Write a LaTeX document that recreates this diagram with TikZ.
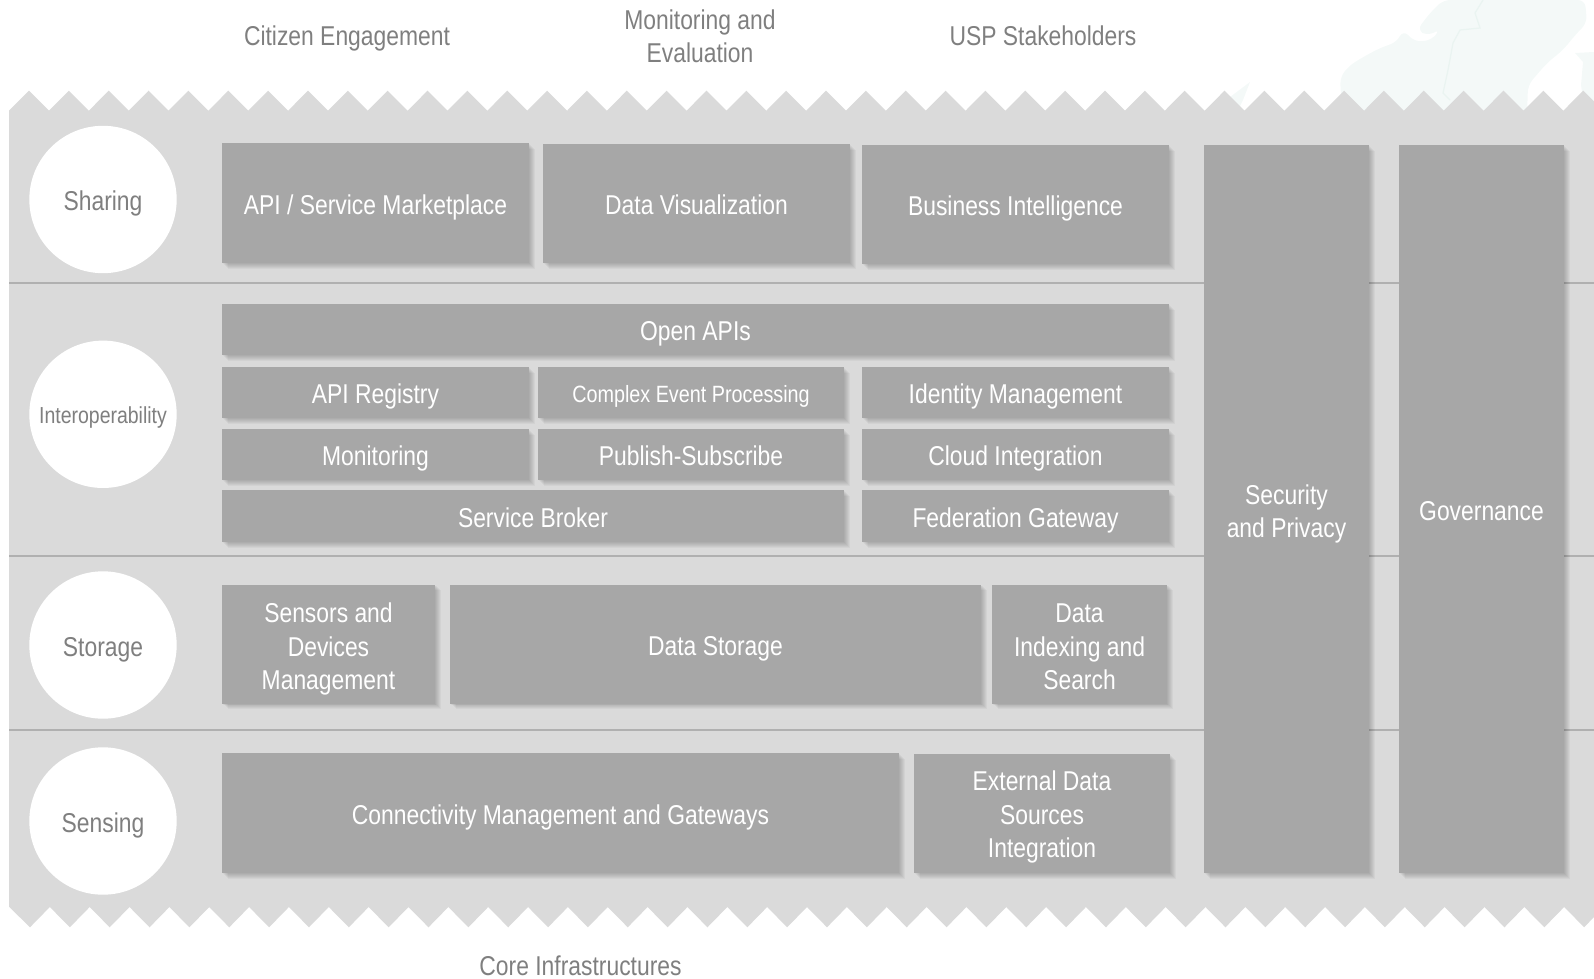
\documentclass[tikz,border=0pt]{standalone}
\usepackage{fontspec}
\setmainfont[FakeStretch=0.84]{Liberation Sans}
\usetikzlibrary{shadows}
\definecolor{bandgray}{HTML}{DADADA}
\definecolor{boxgray}{HTML}{A7A7A7}
\definecolor{sepgray}{HTML}{B0B0B0}
\definecolor{labelgray}{HTML}{7F7F7F}
\definecolor{mapgreen}{HTML}{F4F9F8}
\definecolor{rivergreen}{HTML}{EAF4F1}
\tikzset{
  boxsize/.style 2 args={minimum width=#1*0.02cm,minimum height=#2*0.02cm},
  softlayer/.style={drop shadow={shadow xshift=#1,shadow yshift=-#1,fill=black,opacity=0.035}},
  layerbox/.style={fill=boxgray,text=white,align=center,inner sep=0pt,outer sep=0pt,
    font=\fontsize{15.5}{19}\selectfont,
    softlayer=3.4pt,softlayer=2.8pt,softlayer=2.2pt,softlayer=1.7pt,softlayer=1.1pt,softlayer=0.6pt},
  oneline/.style={text height=12.9pt,text depth=0pt},
  twolines/.style={text height=32.4pt,text depth=0pt},
  threelines/.style={text height=52pt,text depth=0pt},
  layercircle/.style={circle,fill=white,text=labelgray,inner sep=0pt,outer sep=0pt,
    minimum size=2.948cm,font=\fontsize{15.5}{19}\selectfont,oneline},
  toplabel/.style={text=labelgray,align=center,inner sep=0pt,font=\fontsize{15.5}{19}\selectfont},
  sepline/.style={draw=sepgray,line width=1.3pt}
}
\begin{document}
\begin{tikzpicture}[x=0.02cm,y=0.02cm]
\useasboundingbox (0,0) rectangle (1594,-979);
% map behind the band
\fill [mapgreen,rounded corners=4pt] (1443,0) -- (1430,-13) -- (1417,-30) -- (1428,-36) -- (1440,-29) -- (1432,-40) -- (1415,-42) -- (1403,-30) -- (1397,-42) -- (1380,-48) -- (1365,-56) -- (1350,-65) -- (1340,-77) -- (1342,-115) -- (1527,-115) -- (1528,-85) -- (1547,-63) -- (1563,-50) -- (1577,-33) -- (1587,-23) -- (1585,0) -- cycle;
\fill [mapgreen] (1594,-52) -- (1575,-53) -- (1583,-62) -- (1581,-85) -- (1585,-115) -- (1594,-115) -- cycle;
\fill [mapgreen] (1230,-97) -- (1250,-82) -- (1243,-100) -- (1238,-110) -- cycle;
\draw [rivergreen,line width=0.7pt] (1483,0) -- (1475,-13) -- (1480,-28) -- (1460,-30) -- (1453,-43) -- (1448,-70) -- (1443,-93) -- (1450,-100);
% band with its teeth
\fill [bandgray] (9,-110.7)
  \foreach \n in {0,...,38} { -- ({29+39.85*\n},-90.7) -- ({49+39.85*\n},-110.7) }
  -- (1583.2,-90.7) -- (1594,-101.5) -- (1594,-917)
  \foreach \n in {39,38,...,1} { -- ({30+39.85*\n},-927.3) -- ({10+39.85*\n},-907) }
  -- (30,-927.3) -- (9,-906.7) -- cycle;
\draw [sepline] (9,-283.3) -- (1594,-283.3);
\draw [sepline] (9,-556) -- (1594,-556);
\draw [sepline] (9,-730) -- (1594,-730);
% layers
\node [layercircle] (sharing) at (103,-199.5) {Sharing};
\node [layercircle,font=\fontsize{13.2}{19}\selectfont,text height=11pt] (interop) at (103,-414.3) {Interoperability};
\node [layercircle] (storage) at (103,-645) {Storage};
\node [layercircle] (sensing) at (103,-821) {Sensing};
% sharing
\node [layerbox,oneline,boxsize={307}{120}] (marketplace) at (375.5,-203) {API / Service Marketplace};
\node [layerbox,oneline,boxsize={307}{119}] (dataviz) at (696.5,-203.5) {Data Visualization};
\node [layerbox,oneline,boxsize={307}{119}] (bizintel) at (1015.5,-204.5) {Business Intelligence};
% interoperability
\node [layerbox,oneline,boxsize={947}{51}] (openapis) at (695.5,-329.5) {Open APIs};
\node [layerbox,oneline,boxsize={307}{51}] (registry) at (375.5,-392.5) {API Registry};
\node [layerbox,oneline,boxsize={306}{51},font=\fontsize{13.4}{19}\selectfont,text height=11.9pt] (cep) at (691,-392.5) {Complex Event Processing};
\node [layerbox,oneline,boxsize={307}{51}] (identity) at (1015.5,-392.5) {Identity Management};
\node [layerbox,oneline,boxsize={307}{51}] (monitoring) at (375.5,-454.5) {Monitoring};
\node [layerbox,oneline,boxsize={306}{51}] (pubsub) at (691,-454.5) {Publish-Subscribe};
\node [layerbox,oneline,boxsize={307}{51}] (cloud) at (1015.5,-454.5) {Cloud Integration};
\node [layerbox,oneline,boxsize={622}{52}] (broker) at (533,-516) {Service Broker};
\node [layerbox,oneline,boxsize={307}{52}] (federation) at (1015.5,-516) {Federation Gateway};
% storage
\node [layerbox,threelines,boxsize={213}{119}] (sensors) at (328.5,-644) {Sensors and\\Devices\\Management};
\node [layerbox,oneline,boxsize={531}{119}] (datastore) at (715.5,-644) {Data Storage};
\node [layerbox,threelines,boxsize={175}{119}] (indexing) at (1079.5,-644) {Data\\Indexing and\\Search};
% sensing
\node [layerbox,oneline,boxsize={677}{120}] (connectivity) at (560.5,-813) {Connectivity Management and Gateways};
\node [layerbox,threelines,text height=50pt,boxsize={256}{119}] (external) at (1042,-813.5) {External Data\\Sources\\Integration};
% vertical
\node [layerbox,twolines,boxsize={165}{728}] (security) at (1286.5,-509) {Security\\and Privacy};
\node [layerbox,oneline,boxsize={165}{728}] (governance) at (1481.5,-509) {Governance};
% outer labels
\node [toplabel,oneline] (citizen) at (347,-34.5) {Citizen Engagement};
\node [toplabel,twolines] (evaluation) at (700,-34) {Monitoring and\\Evaluation};
\node [toplabel,oneline] (stakeholders) at (1043,-34.5) {USP Stakeholders};
\node [toplabel,oneline] (core) at (580.5,-964.5) {Core Infrastructures};
\end{tikzpicture}
\end{document}
